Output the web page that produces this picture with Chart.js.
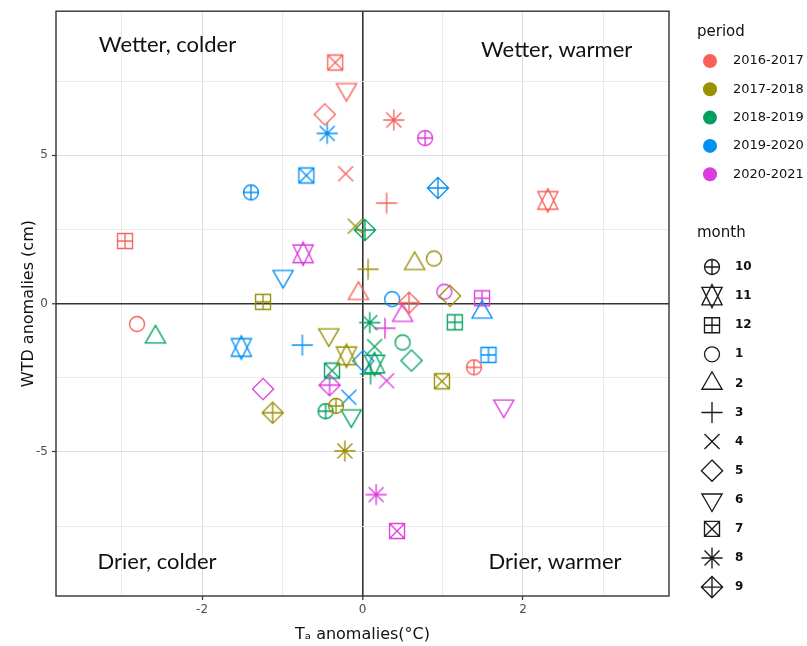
<!DOCTYPE html>
<html>
<head>
<meta charset="utf-8">
<script src="https://cdn.jsdelivr.net/npm/chart.js@4"></script>
<style>
  html, body { margin: 0; padding: 0; background: #fff; }
</style>
</head>
<body>
<canvas id="chart" width="807" height="646"></canvas>
<script>
// months in plotting order, one point per month and period
const months = [10, 11, 12, 1, 2, 3, 4, 5, 6, 7, 8, 9];
const periods = ['2016-2017', '2017-2018', '2018-2019', '2019-2020', '2020-2021'];
const periodColors = ['#F8605A', '#9A9000', '#00A060', '#0090F2', '#DC3CDC'];

// Ta anomalies (x, °C) and WTD anomalies (y, cm), same order as months
const ta2016 = [1.39, 2.31, -2.96, -2.81, -0.05, 0.30, -0.21, -0.47, -0.20, -0.34, 0.39, 0.58];
const wtd2016 = [-2.15, 3.48, 2.11, -0.69, 0.34, 3.39, 4.38, 6.38, 7.22, 8.13, 6.19, 0.03];
const ta2017 = [-0.33, -0.20, -1.24, 0.89, 0.65, 0.07, -0.09, 1.09, -0.42, 0.99, -0.22, -1.12];
const wtd2017 = [-3.45, -1.76, 0.06, 1.52, 1.35, 1.16, 2.61, 0.26, -1.05, -2.62, -4.97, -3.68];
const ta2018 = [-0.46, 0.15, 1.15, 0.50, -2.58, 0.10, 0.15, 0.61, -0.14, -0.38, 0.09, 0.03];
const wtd2018 = [-3.63, -2.04, -0.63, -1.31, -1.13, -2.37, -1.45, -1.92, -3.78, -2.26, -0.64, 2.48];
const ta2019 = [-1.39, -1.51, 1.57, 0.37, 1.49, -0.75, -0.17, 0.01, -0.99, -0.70, -0.44, 0.94];
const wtd2019 = [3.75, -1.48, -1.73, 0.15, -0.29, -1.40, -3.16, -1.93, 0.92, 4.32, 5.74, 3.90];
const ta2020 = [0.78, -0.74, 1.49, 1.02, 0.50, 0.28, 0.30, -1.24, 1.76, 0.43, 0.17, -0.41];
const wtd2020 = [5.58, 1.68, 0.18, 0.40, -0.40, -0.83, -2.60, -2.88, -3.45, -7.67, -6.44, -2.75];

const taByPeriod = [ta2016, ta2017, ta2018, ta2019, ta2020];
const wtdByPeriod = [wtd2016, wtd2017, wtd2018, wtd2019, wtd2020];

// quadrant notes
const quadLabels = ['Wetter, colder', 'Wetter, warmer', 'Drier, colder', 'Drier, warmer'];
const quadX = [-2.43, 2.42, -2.56, 2.40];
const quadY = [8.73, 8.56, -8.70, -8.72];

// R style point symbols (pch 1..12)
const R0 = 7.5;
function drawMonthShape(ctx, m, x, y, color) {
  const r = R0, d = Math.SQRT2 * R0;
  const tr = 1.5551 * R0, ty = 0.7776 * R0, tx = 1.3468 * R0;
  ctx.save();
  ctx.strokeStyle = color;
  ctx.lineWidth = 1.35;
  ctx.beginPath();
  const line = (x1, y1, x2, y2) => { ctx.moveTo(x + x1, y + y1); ctx.lineTo(x + x2, y + y2); };
  const circle = rad => { ctx.moveTo(x + rad, y); ctx.arc(x, y, rad, 0, Math.PI * 2); };
  const diamond = () => {
    ctx.moveTo(x, y - d); ctx.lineTo(x + d, y); ctx.lineTo(x, y + d); ctx.lineTo(x - d, y); ctx.closePath();
  };
  switch (m) {
    case 1: circle(r); break;
    case 2:
      ctx.moveTo(x, y - tr); ctx.lineTo(x + tx, y + ty); ctx.lineTo(x - tx, y + ty); ctx.closePath();
      break;
    case 3: line(-d, 0, d, 0); line(0, -d, 0, d); break;
    case 4: line(-r, -r, r, r); line(-r, r, r, -r); break;
    case 5: diamond(); break;
    case 6:
      ctx.moveTo(x, y + tr); ctx.lineTo(x + tx, y - ty); ctx.lineTo(x - tx, y - ty); ctx.closePath();
      break;
    case 7: ctx.rect(x - r, y - r, 2 * r, 2 * r); line(-r, -r, r, r); line(-r, r, r, -r); break;
    case 8: line(-r, -r, r, r); line(-r, r, r, -r); line(-d, 0, d, 0); line(0, -d, 0, d); break;
    case 9: diamond(); line(-d, 0, d, 0); line(0, -d, 0, d); break;
    case 10: circle(r); line(-r, 0, r, 0); line(0, -r, 0, r); break;
    case 11: {
      const hy = 1.1663 * R0;
      ctx.moveTo(x, y - tr); ctx.lineTo(x + tx, y + hy); ctx.lineTo(x - tx, y + hy); ctx.closePath();
      ctx.moveTo(x, y + tr); ctx.lineTo(x + tx, y - hy); ctx.lineTo(x - tx, y - hy); ctx.closePath();
      break;
    }
    case 12: ctx.rect(x - r, y - r, 2 * r, 2 * r); line(-r, 0, r, 0); line(0, -r, 0, r); break;
  }
  ctx.stroke();
  ctx.restore();
}

function shapeCanvas(m, color) {
  const c = document.createElement('canvas');
  c.width = 32; c.height = 32;
  drawMonthShape(c.getContext('2d'), m, 16, 16, color);
  return c;
}

const datasets = periods.map((p, i) => ({
  label: p,
  data: taByPeriod[i].map((x, j) => ({ x: x, y: wtdByPeriod[i][j] })),
  pointStyle: months.map(m => shapeCanvas(m, periodColors[i])),
  pointRadius: 8,
  showLine: false
}));

const isMajorX = v => Math.abs(v % 2) < 1e-9;
const isMajorY = v => Math.abs(v % 5) < 1e-9;
function gridOpts(isMajor) {
  return {
    color: c => c.tick.value === 0 ? '#333333' : (isMajor(c.tick.value) ? '#dddddd' : '#ebebeb'),
    lineWidth: c => c.tick.value === 0 ? 1.6 : 1,
    tickColor: c => isMajor(c.tick.value) ? '#333333' : 'rgba(0,0,0,0)',
    tickWidth: 1.2,
    tickLength: 4,
    drawTicks: true
  };
}

const quadrantText = {
  id: 'quadrantText',
  afterDatasetsDraw(chart) {
    const ctx = chart.ctx, xs = chart.scales.x, ys = chart.scales.y;
    ctx.save();
    ctx.font = '22px Lato';
    ctx.fillStyle = '#111';
    ctx.textAlign = 'center';
    ctx.textBaseline = 'middle';
    quadLabels.forEach((t, i) => {
      ctx.fillText(t, xs.getPixelForValue(quadX[i]), ys.getPixelForValue(quadY[i]));
    });
    ctx.restore();
  }
};

const panelBorder = {
  id: 'panelBorder',
  afterDraw(chart) {
    const a = chart.chartArea, ctx = chart.ctx;
    ctx.save();
    ctx.strokeStyle = '#333333';
    ctx.lineWidth = 1.4;
    ctx.strokeRect(a.left, a.top, a.right - a.left, a.bottom - a.top);
    ctx.restore();
  }
};

const sideLegend = {
  id: 'sideLegend',
  afterDraw(chart) {
    const ctx = chart.ctx;
    ctx.save();
    ctx.textBaseline = 'middle';
    ctx.textAlign = 'left';
    ctx.fillStyle = '#111';
    ctx.font = '15px "DejaVu Sans"';
    ctx.fillText('period', 697, 32);
    periods.forEach((p, i) => {
      const y = 61 + i * 28.3;
      ctx.fillStyle = periodColors[i];
      ctx.beginPath();
      ctx.arc(710, y, 7, 0, Math.PI * 2);
      ctx.fill();
      ctx.fillStyle = '#111';
      ctx.font = '13px "DejaVu Sans"';
      ctx.fillText(p, 733, y);
    });
    ctx.font = '15px "DejaVu Sans"';
    ctx.fillText('month', 697, 233);
    months.forEach((m, j) => {
      const y = 267 + j * 29.1;
      drawMonthShape(ctx, m, 712, y, '#1a1a1a');
      ctx.fillStyle = '#111';
      ctx.font = 'bold 12px "DejaVu Sans"';
      ctx.fillText(String(m), 735, y);
    });
    ctx.restore();
  }
};

new Chart(document.getElementById('chart'), {
  type: 'scatter',
  data: { datasets: datasets },
  plugins: [quadrantText, panelBorder, sideLegend],
  options: {
    responsive: false,
    animation: false,
    layout: { padding: { top: 9, right: 138, left: 0, bottom: 0 } },
    plugins: { legend: { display: false }, tooltip: { enabled: false } },
    scales: {
      x: {
        type: 'linear',
        min: -3.82,
        max: 3.82,
        border: { display: false },
        grid: gridOpts(isMajorX),
        ticks: {
          stepSize: 1,
          includeBounds: false,
          autoSkip: false,
          maxRotation: 0,
          padding: 3,
          color: '#4d4d4d',
          font: { family: 'DejaVu Sans', size: 12 },
          callback: v => isMajorX(v) ? String(v) : ''
        },
        title: {
          display: true,
          text: 'Tₐ anomalies(°C)',
          color: '#111',
          font: { family: 'DejaVu Sans', size: 16 },
          padding: { top: 0, bottom: 2 }
        },
        afterFit: s => { s.height = 50; }
      },
      y: {
        type: 'linear',
        min: -9.86,
        max: 9.86,
        border: { display: false },
        grid: gridOpts(isMajorY),
        ticks: {
          stepSize: 2.5,
          includeBounds: false,
          autoSkip: false,
          padding: 4,
          color: '#4d4d4d',
          font: { family: 'DejaVu Sans', size: 12 },
          callback: v => isMajorY(v) ? String(v) : ''
        },
        title: {
          display: true,
          text: 'WTD anomalies (cm)',
          color: '#111',
          font: { family: 'DejaVu Sans', size: 16 },
          padding: { top: 19, bottom: 0 }
        },
        afterFit: s => { s.width = 56; }
      }
    }
  }
});
</script>
</body>
</html>
